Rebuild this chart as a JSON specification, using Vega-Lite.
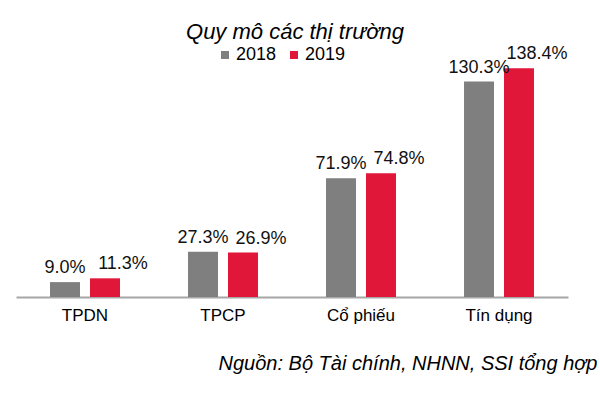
{
  "$schema": "https://vega.github.io/schema/vega-lite/v6.json",
  "autosize": {"type": "none"},
  "width": 552,
  "height": 248,
  "padding": {"left": 16, "right": 32, "top": 49, "bottom": 104},
  "background": "white",
  "title": {
    "text": "Quy mô các thị trường",
    "font": "Liberation Sans",
    "fontSize": 22,
    "fontStyle": "italic",
    "fontWeight": "normal",
    "color": "black",
    "anchor": "middle",
    "baseline": "alphabetic",
    "offset": 15,
    "dx": 3,
    "dy": 31
  },
  "data": {
    "values": [
      {"market": "TPDN", "year": "2018", "value": 0.090},
      {"market": "TPDN", "year": "2019", "value": 0.113},
      {"market": "TPCP", "year": "2018", "value": 0.273},
      {"market": "TPCP", "year": "2019", "value": 0.269},
      {"market": "Cổ phiếu", "year": "2018", "value": 0.719},
      {"market": "Cổ phiếu", "year": "2019", "value": 0.748},
      {"market": "Tín dụng", "year": "2018", "value": 1.303},
      {"market": "Tín dụng", "year": "2019", "value": 1.384}
    ]
  },
  "encoding": {
    "x": {
      "field": "market",
      "type": "nominal",
      "sort": null,
      "scale": {"paddingInner": 0.493, "paddingOuter": 0.2465},
      "axis": {
        "title": "Nguồn: Bộ Tài chính, NHNN, SSI tổng hợp",
        "titleFont": "Liberation Sans",
        "titleFontSize": 20,
        "titleFontStyle": "italic",
        "titleFontWeight": "normal",
        "titleColor": "black",
        "titleAlign": "right",
        "titleBaseline": "alphabetic",
        "titleX": 581,
        "titleY": 72,
        "labelAngle": 0,
        "labelFont": "Liberation Sans",
        "labelFontSize": 17,
        "labelColor": "black",
        "labelPadding": 10,
        "ticks": false,
        "domainColor": "#a6a6a6",
        "domainWidth": 2
      }
    },
    "xOffset": {
      "field": "year",
      "type": "nominal",
      "scale": {"paddingInner": 0.25, "paddingOuter": 0}
    },
    "y": {
      "field": "value",
      "type": "quantitative",
      "scale": {"domain": [0, 1.5], "nice": false},
      "axis": null
    }
  },
  "layer": [
    {
      "mark": {"type": "bar"},
      "encoding": {
        "color": {
          "field": "year",
          "type": "nominal",
          "scale": {"domain": ["2018", "2019"], "range": ["#7f7f7f", "#e1173a"]},
          "legend": {
            "title": null,
            "orient": "none",
            "direction": "horizontal",
            "legendX": 200,
            "legendY": -3,
            "padding": 0,
            "symbolType": "square",
            "symbolSize": 64,
            "symbolStrokeWidth": 0,
            "labelFont": "Liberation Sans",
            "labelFontSize": 18,
            "labelColor": "black",
            "labelOffset": 2,
            "columnPadding": 8
          }
        }
      }
    },
    {
      "transform": [{"filter": "datum.year == '2018'"}],
      "mark": {"type": "text", "baseline": "alphabetic", "dy": -9, "font": "Liberation Sans", "fontSize": 18, "color": "#111111"},
      "encoding": {"text": {"field": "value", "type": "quantitative", "format": ".1%"}}
    },
    {
      "transform": [{"filter": "datum.year == '2019'"}],
      "mark": {"type": "text", "baseline": "alphabetic", "dy": -9, "dx": 18, "font": "Liberation Sans", "fontSize": 18, "color": "#111111"},
      "encoding": {"text": {"field": "value", "type": "quantitative", "format": ".1%"}}
    }
  ],
  "config": {
    "view": {"stroke": null},
    "font": "Liberation Sans"
  }
}
